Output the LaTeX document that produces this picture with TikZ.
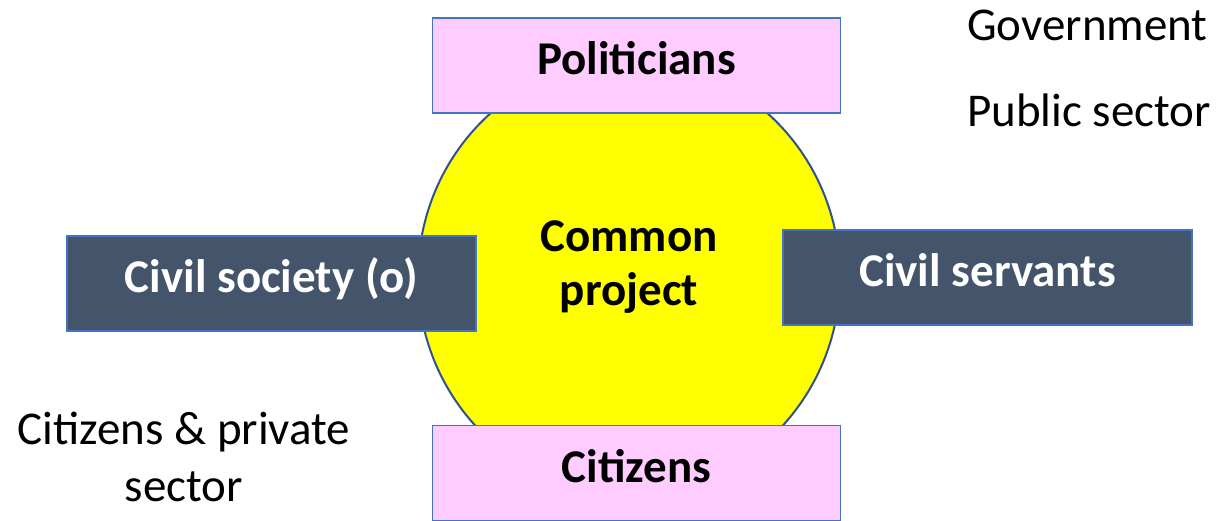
\documentclass[tikz,border=0pt]{standalone}
\usepackage{fontspec}
\setmainfont{Carlito}
\usepackage{tikz}
\usetikzlibrary{shapes.geometric,positioning}
\definecolor{rose}{RGB}{255,204,255}
\definecolor{ardoise}{RGB}{68,84,106}
\definecolor{bordbleu}{RGB}{68,114,196}
\definecolor{bleufonce}{RGB}{47,82,143}
\definecolor{jaune}{RGB}{255,255,0}

\begin{document}
\begin{tikzpicture}[x=1pt, y=-1pt,
    boiterose/.style={draw=bordbleu, line width=1.5pt, fill=rose, minimum width=408pt, minimum height=95pt,
        inner sep=0pt, text height=25pt, text depth=7pt, font=\fontsize{47}{48}\selectfont\bfseries},
    boitesombre/.style={draw=bordbleu, line width=1.5pt, fill=ardoise, text=white, minimum width=409pt, minimum height=95pt,
        inner sep=0pt, text height=25pt, text depth=7pt, font=\fontsize{47}{48}\selectfont\bfseries},
    libre/.style={inner sep=0pt, font=\fontsize{47}{57}\selectfont}]
    \useasboundingbox (0,0) rectangle (1222,521);

    % Cercle central
    \node[ellipse, draw=bleufonce, line width=2pt, fill=jaune, minimum width=422pt, minimum height=434pt] (cercle) at (629,277) {};
    \node[inner sep=0pt, align=center, anchor=base, font=\fontsize{47}{54}\selectfont\bfseries] (projet) at (629,305) {Common\\project};

    % Boîtes autour du cercle
    \node[boiterose] (politiciens) at (636.5,65.5) {Politicians};
    \node[boiterose] (citoyens) at (636.5,473) {Citizens};
    \node[boitesombre] (societe) at (271.5,283.5) {Civil society (o)};
    \node[boitesombre] (fonctionnaires) at (987.5,277.5) {Civil servants};

    % Légendes
    \node[libre, anchor=base west] (gouvernement) at (967,41) {Government};
    \node[libre, anchor=base west] (public) at (967,127) {Public sector};
    \node[libre, align=center, anchor=base] (prive) at (184,501) {Citizens \& private\\sector};
\end{tikzpicture}
\end{document}
